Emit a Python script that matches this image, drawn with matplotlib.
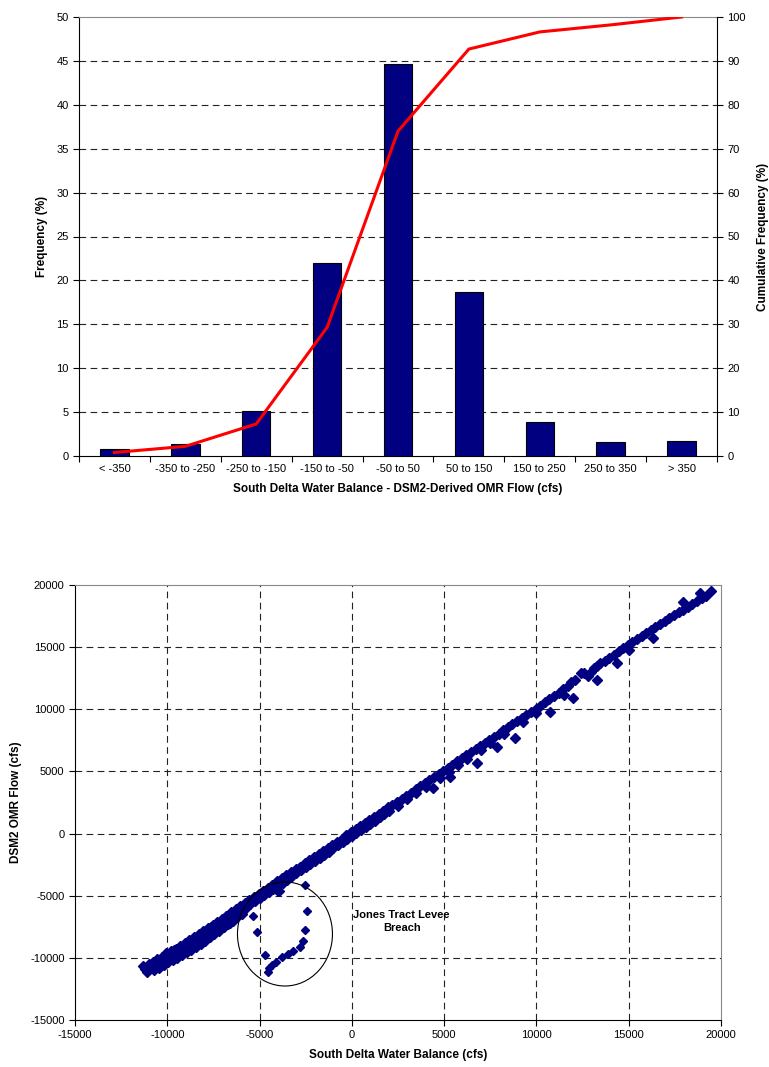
import matplotlib
matplotlib.use("Agg")
import matplotlib.pyplot as plt
from matplotlib.patches import Ellipse

plt.rcParams['font.family'] = ['Liberation Sans', 'DejaVu Sans']
plt.rcParams['axes.unicode_minus'] = False

# ---------------- data: histogram ----------------
categories = ["< -350", "-350 to -250", "-250 to -150", "-150 to -50", "-50 to 50",
              "50 to 150", "150 to 250", "250 to 350", "> 350"]
frequency = [0.8, 1.4, 5.1, 22.0, 44.7, 18.7, 3.9, 1.6, 1.7]
cumulative = [0.8, 2.2, 7.3, 29.3, 74.0, 92.7, 96.6, 98.2, 100.0]

# ---------------- data: scatter ----------------
balance_x = [
    -11300, -11200, -11100, -11000, -10950, -10800, -10750, -10700, -10550, -10500,
    -10450, -10300, -10250, -10200, -10050, -10000, -9950, -9800, -9750, -9700,
    -9550, -9500, -9450, -9300, -9250, -9200, -9050, -9000, -8950, -8800,
    -8750, -8700, -8550, -8500, -8450, -8300, -8250, -8200, -8050, -8000,
    -7950, -7800, -7750, -7700, -7550, -7500, -7450, -7300, -7250, -7200,
    -7050, -7000, -6950, -6800, -6750, -6700, -6600, -6550, -6500, -6450,
    -6300, -6250, -6200, -6050, -6000, -5950,
    -5800, -5750, -5550, -5500, -5300, -5250, -5050, -5000, -4800, -4750,
    -4550, -4500, -4300, -4250, -4050, -4000, -3950, -3800, -3750, -3550,
    -3500, -3300, -3250, -3050, -3000, -2800, -2750, -2550, -2500, -2300,
    -2250, -2050, -2000, -1800, -1750, -1550, -1500, -1300, -1250, -1050,
    -1000, -800, -750, -550, -500, -300, -250, -50, 0,
    200, 250, 450, 500, 700, 750, 950, 1000, 1200, 1250,
    1450, 1500, 1700, 1750, 1950, 2000, 2200, 2450, 2500, 2700,
    2950, 3000, 3200, 3450, 3500, 3700, 3950, 4000, 4200, 4400,
    4450, 4700, 4750, 4950, 5200, 5250, 5310, 5450, 5700, 5750,
    5950, 6200, 6250, 6450, 6700, 6760, 6950, 7000, 7200, 7450,
    7500, 7700, 7840, 7950, 8200, 8250, 8450, 8700, 8835, 8950,
    9200, 9250, 9450, 9700, 9950, 10000, 10200, 10450, 10700, 10730,
    10950, 11200, 11450, 11500, 11700, 11900, 11960, 12100, 12440, 12600,
    12800, 12950, 13100, 13260, 13300, 13450, 13700, 13950, 14200, 14340,
    14450, 14700, 14950, 15000, 15200, 15450, 15700, 15950, 16200, 16310,
    16450, 16700, 16950, 17200, 17450, 17700, 17940, 17950, 18200, 18450,
    18700, 18860, 18950, 19200, 19450,
    -10650, -9650, -8650, -7650, -6900, -9150, -8150, -7150,
]
omr_y = [
    -10650, -10900, -11100, -10500, -10800, -10300, -10650, -10950, -10100, -10450,
    -10800, -9900, -10250, -10600, -9600, -9950, -10350, -9450, -9800, -10150,
    -9250, -9650, -10000, -9050, -9400, -9800, -8800, -9200, -9550, -8550,
    -8950, -9350, -8300, -8700, -9100, -8050, -8450, -8850, -7800, -8200,
    -8650, -7600, -7950, -8300, -7350, -7700, -8050, -7100, -7450, -7800,
    -6850, -7200, -7550, -6600, -6950, -7250, -7220, -6350, -6700, -7000,
    -6100, -6450, -6750, -5850, -6200, -6450,
    -5600, -5950, -5350, -5700, -5100, -5450, -4850, -5200, -4600, -4950,
    -4350, -4700, -4100, -4450, -3850, -4200, -4650, -3600, -3950, -3350,
    -3700, -3100, -3450, -2850, -3200, -2650, -2950, -2400, -2700, -2150,
    -2450, -1900, -2200, -1650, -1950, -1400, -1700, -1150, -1450, -900,
    -1200, -650, -950, -400, -700, -150, -450, 100, -200,
    350, 50, 600, 300, 850, 550, 1100, 800, 1350, 1050,
    1600, 1300, 1850, 1550, 2100, 1800, 2300, 2550, 2250, 2800,
    3050, 2750, 3300, 3550, 3250, 3800, 4050, 3750, 4300, 3660,
    4550, 4800, 4500, 5050, 5300, 4950, 4560, 5550, 5800, 5500,
    6050, 6300, 6000, 6550, 6800, 5700, 7050, 6750, 7300, 7550,
    7250, 7800, 6990, 8050, 8300, 8000, 8550, 8800, 7660, 9050,
    9300, 9000, 9550, 9800, 10050, 9700, 10300, 10550, 10800, 9800,
    11050, 11350, 11650, 11150, 11900, 12200, 10880, 12350, 12950, 12900,
    12700, 13000, 13300, 12350, 13500, 13700, 13900, 14100, 14400, 13700,
    14650, 14900, 15150, 14800, 15400, 15650, 15900, 16100, 16400, 15730,
    16600, 16850, 17100, 17350, 17550, 17800, 18650, 18000, 18250, 18500,
    18750, 19380, 18950, 19150, 19540,
    -10400, -9400, -8550, -7500, -6900, -9350, -8300, -7300,
]
breach_x = [-2540, -2450, -2540, -2630, -2810, -3170, -3480, -3810, -4110,
            -4350, -4480, -4530, -4710, -5120, -5380, -3990]
breach_y = [-4140, -6210, -7760, -8620, -9100, -9450, -9690, -9960, -10310,
            -10580, -10840, -11110, -9750, -7920, -6630, -4680]

xticks = [-15000, -10000, -5000, 0, 5000, 10000, 15000, 20000]
yticks = [-15000, -10000, -5000, 0, 5000, 10000, 15000, 20000]

# ---------------- figure ----------------
W, H = 769, 1067
fig = plt.figure(figsize=(W / 100, H / 100), dpi=100)

navy = "#000080"
grid_kw = dict(color="#222222", linestyle=(0, (6, 4)), linewidth=0.8)
tick_fs = 8
lab_fs = 8.5

# ---- top: histogram ----
ax1 = fig.add_axes([79 / W, 1 - 456 / H, (717 - 79) / W, (456 - 17) / H])
pos = list(range(len(categories)))
ax1.bar(pos, frequency, width=0.4, color=navy, edgecolor="black", linewidth=0.8, zorder=3)
ax1.set_xlim(-0.5, len(categories) - 0.5)
ax1.set_ylim(0, 50)
ax1.set_yticks(range(0, 51, 5))
for v in range(5, 50, 5):
    ax1.axhline(v, zorder=1, **grid_kw)
ax1.set_xticks([p - 0.5 for p in pos] + [len(pos) - 0.5])
ax1.set_xticklabels([])
ax1.set_xticks(pos, minor=True)
ax1.set_xticklabels(categories, minor=True)
ax1.tick_params(axis="x", which="major", length=4, direction="out", width=0.8)
ax1.tick_params(axis="x", which="minor", length=0, pad=6, labelsize=tick_fs)
ax1.tick_params(axis="y", length=4, width=0.8, labelsize=tick_fs)
ax1.spines["top"].set_color("#888888")
ax1.spines["right"].set_visible(False)
ax1.set_ylabel("Frequency (%)", fontsize=lab_fs, fontweight="bold", labelpad=6)
ax1.set_xlabel("South Delta Water Balance - DSM2-Derived OMR Flow (cfs)",
               fontsize=lab_fs, fontweight="bold", labelpad=6)

ax2 = ax1.twinx()
ax2.plot(pos, cumulative, color="#ff0000", linewidth=2.2, zorder=4)
ax2.set_ylim(0, 100)
ax2.set_yticks(range(0, 101, 10))
ax2.tick_params(axis="y", length=4, width=0.8, labelsize=tick_fs)
ax2.spines["top"].set_visible(False)
ax2.spines["left"].set_visible(False)
ax2.spines["bottom"].set_visible(False)
ax2.set_ylabel("Cumulative Frequency (%)", fontsize=lab_fs, fontweight="bold", labelpad=8)

# ---- bottom: scatter ----
ax3 = fig.add_axes([75 / W, 1 - 1020 / H, (721 - 75) / W, (1020 - 585) / H])
ax3.set_xlim(-15000, 20000)
ax3.set_ylim(-15000, 20000)
ax3.set_xticks(xticks)
ax3.set_yticks(yticks)
for v in xticks[1:-1]:
    ax3.axvline(v, zorder=1, **grid_kw)
for v in yticks[1:-1]:
    ax3.axhline(v, zorder=1, **grid_kw)
ax3.plot(balance_x, omr_y, linestyle="none", marker="D", markersize=4.9,
         color=navy, markeredgecolor=navy, zorder=3)
ax3.plot(breach_x, breach_y, linestyle="none", marker="D", markersize=4.5,
         color=navy, markeredgecolor=navy, zorder=3)
ax3.add_patch(Ellipse((-3624, -8081), 5146, 8367, fill=False, edgecolor="black",
                      linewidth=0.8, zorder=4))
ax3.text(2700, -7090, "Jones Tract Levee\nBreach", ha="center", va="center",
         fontsize=8, fontweight="bold", linespacing=1.3)
ax3.tick_params(length=4, width=0.8, labelsize=tick_fs)
ax3.spines["top"].set_color("#888888")
ax3.spines["right"].set_color("#888888")
ax3.set_ylabel("DSM2 OMR Flow (cfs)", fontsize=lab_fs, fontweight="bold", labelpad=6)
ax3.set_xlabel("South Delta Water Balance (cfs)", fontsize=lab_fs, fontweight="bold", labelpad=6)

fig.savefig("out.png", dpi=100)
